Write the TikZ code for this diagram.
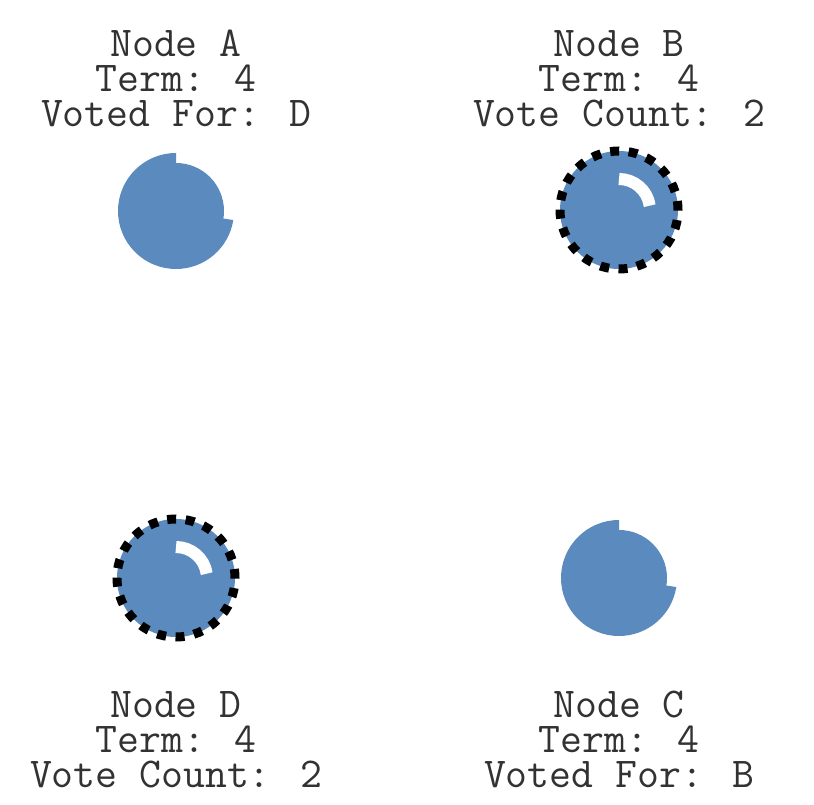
\documentclass[tikz,border=0pt]{standalone}
\usepackage{fontspec}
\usetikzlibrary{positioning}
\definecolor{nblue}{RGB}{91,139,190}
\definecolor{ntext}{RGB}{50,50,50}

\begin{document}
\begin{tikzpicture}[x=1pt, y=1pt,
  ball/.style={circle, fill=nblue, inner sep=0pt, outer sep=0pt},
  follower/.style={ball, minimum size=96pt},
  candidate/.style={ball, minimum size=118pt, draw=black, line width=9pt,
                    dash pattern=on 9pt off 9.5pt},
  timer/.style={draw=white, line width=12pt},
  lbl/.style={align=center, inner sep=0pt, text depth=0pt, text=ntext,
              font=\ttfamily\fontsize{42.5}{35}\selectfont}
]
\useasboundingbox (0,0) rectangle (814,804);

% followers: ball with a slice of the timer left
\node[follower] (nA) at (176,593) {};
\node[follower] (nC) at (619,226) {};
\fill[nblue] (nA.center) -- ++(90:58) arc[start angle=90, end angle=351, radius=58] -- cycle;
\fill[nblue] (nC.center) -- ++(90:58) arc[start angle=90, end angle=351, radius=58] -- cycle;

% candidates: dotted ring and white timer arc
\node[candidate] (nB) at (619,594) {};
\node[candidate] (nD) at (176,226) {};
\draw[timer] (nB.center) ++(90:31) arc[start angle=90, end angle=8, radius=31];
\draw[timer] (nD.center) ++(90:31) arc[start angle=90, end angle=8, radius=31];

% state labels
\node[lbl, anchor=south] (lA) at (176,677) {Node A\\Term: 4\\Voted For: D};
\node[lbl, anchor=south] (lB) at (619,677) {Node B\\Term: 4\\Vote Count: 2};
\node[lbl, anchor=south] (lD) at (176,16) {Node D\\Term: 4\\Vote Count: 2};
\node[lbl, anchor=south] (lC) at (619,16) {Node C\\Term: 4\\Voted For: B};
\end{tikzpicture}
\end{document}
